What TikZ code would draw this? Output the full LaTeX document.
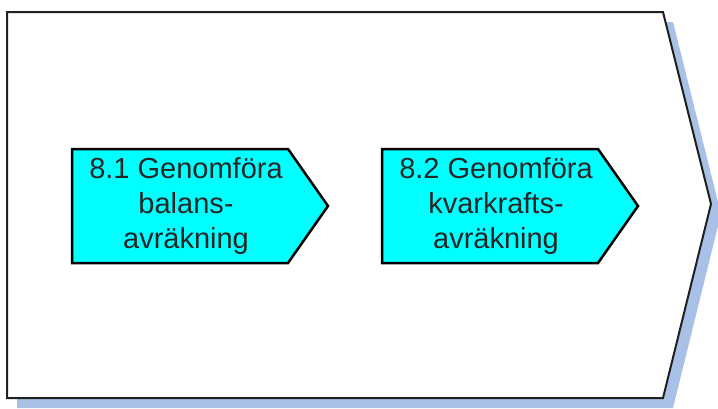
\documentclass[tikz,border=0pt]{standalone}
\usepackage{fontspec}
\setmainfont{Liberation Sans}
\definecolor{shadowblue}{HTML}{A9C1E6}
\definecolor{stepcyan}{HTML}{00FFFF}
\definecolor{edgegray}{HTML}{202020}
\tikzset{
  bigchev/.style={draw=edgegray, line width=2pt, fill=white, line join=miter},
  chevshadow/.style={fill=shadowblue, draw=none},
  smallchev/.style={draw=black, line width=2.5pt, fill=stepcyan, line join=miter},
  steptext/.style={align=center, font=\fontsize{29}{35}\selectfont, inner sep=0pt, text=black!85}
}
\begin{document}
\begin{tikzpicture}[x=1pt,y=-1pt]
\useasboundingbox (0,0) rectangle (718,408);
\begin{scope}
\clip (0,0) rectangle (718,408);
\fill[chevshadow] (17,22) -- (673,22) -- (721,214) -- (673,408) -- (17,408) -- cycle;
\end{scope}
\draw[bigchev] (7,12) -- (663,12) -- (711,204) -- (663,398) -- (7,398) -- cycle;
\draw[smallchev] (72,149) -- (288,149) -- (328,206) -- (288,263) -- (72,263) -- cycle;
\draw[smallchev] (382,149) -- (598,149) -- (638,206) -- (598,263) -- (382,263) -- cycle;
\node[steptext] (t1) at (186,206) {8.1 Genomföra\\balans-\\avräkning};
\node[steptext] (t2) at (496,206) {8.2 Genomföra\\kvarkrafts-\\avräkning};
\end{tikzpicture}
\end{document}
